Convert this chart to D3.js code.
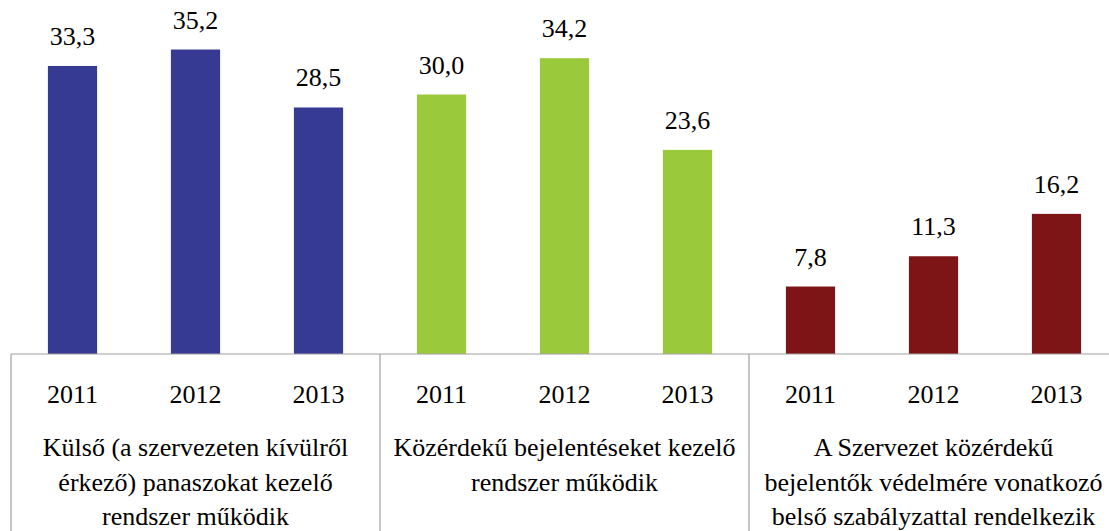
<!DOCTYPE html>
<html>
<head>
<meta charset="utf-8">
<script src="https://cdn.jsdelivr.net/npm/d3@7"></script>
<style>
  html, body { margin: 0; padding: 0; background: #fff; overflow: hidden; }
</style>
</head>
<body>
<svg id="chart" width="1109" height="531"></svg>
<script>
// Survey categories (each drawn as a group of three yearly bars)
const categories = [
  ["Külső (a szervezeten kívülről", "érkező) panaszokat kezelő", "rendszer működik"],
  ["Közérdekű bejelentéseket kezelő", "rendszer működik"],
  ["A Szervezet közérdekű", "bejelentők védelmére vonatkozó", "belső szabályzattal rendelkezik"]
];
const years = ["2011", "2012", "2013"];
const valuesExternal = [33.3, 35.2, 28.5];
const valuesPublicInterest = [30.0, 34.2, 23.6];
const valuesProtection = [7.8, 11.3, 16.2];
const seriesValues = [valuesExternal, valuesPublicInterest, valuesProtection];
const groupColors = ["#363a92", "#9aca3c", "#7d1517"];

// pick the first installed serif face (canvas width probe against monospace)
function pickFont(candidates) {
  const ctx = document.createElement("canvas").getContext("2d");
  const probe = "mmmmmmmmmmlliWW0123456789";
  ctx.font = "40px monospace";
  const base = ctx.measureText(probe).width;
  for (const f of candidates) {
    ctx.font = `40px "${f}", monospace`;
    if (Math.abs(ctx.measureText(probe).width - base) > 0.5) return `"${f}"`;
  }
  return "serif";
}
const FONT = pickFont(["Liberation Serif", "Tinos", "Times New Roman", "Nimbus Roman", "FreeSerif", "DejaVu Serif", "Noto Serif"]) + ", serif";

const svg = d3.select("#chart");
const W = 1109, H = 531;
const left = 11, right = 1118, baseY = 354, topY = 8;

// flatten into bar records
const bars = [];
seriesValues.forEach((vals, g) => {
  vals.forEach((v, i) => bars.push({ key: g + "-" + years[i], g, year: years[i], value: v }));
});

const x = d3.scaleBand()
  .domain(bars.map(d => d.key))
  .range([left, right])
  .paddingInner(0.6)
  .paddingOuter(0.3);

const xGroup = d3.scaleBand()
  .domain(d3.range(categories.length))
  .range([left, right])
  .padding(0);

const y = d3.scaleLinear().domain([0, 40]).range([baseY, topY]);

// bars
svg.append("g").selectAll("rect")
  .data(bars)
  .join("rect")
  .attr("x", d => x(d.key))
  .attr("width", x.bandwidth())
  .attr("y", d => y(d.value))
  .attr("height", d => y(0) - y(d.value))
  .attr("fill", d => groupColors[d.g]);

// value labels
const fmt = v => v.toFixed(1).replace(".", ",");
svg.append("g").selectAll("text")
  .data(bars)
  .join("text")
  .attr("x", d => x(d.key) + x.bandwidth() / 2)
  .attr("y", d => y(d.value) - 21)
  .attr("text-anchor", "middle")
  .style("font-family", FONT)
  .attr("font-size", 26)
  .attr("fill", "#000")
  .text(d => fmt(d.value));

// category axis frame
const frame = svg.append("g")
  .attr("stroke", "#a0a0a0")
  .attr("stroke-width", 1.2)
  .attr("fill", "none");
frame.append("line")
  .attr("x1", left).attr("x2", W)
  .attr("y1", baseY).attr("y2", baseY);
d3.range(categories.length + 1).forEach(i => {
  const xx = i < categories.length ? xGroup(i) : right;
  frame.append("line")
    .attr("x1", xx).attr("x2", xx)
    .attr("y1", baseY).attr("y2", H);
});

// year labels
svg.append("g").selectAll("text")
  .data(bars)
  .join("text")
  .attr("x", d => x(d.key) + x.bandwidth() / 2)
  .attr("y", 403)
  .attr("text-anchor", "middle")
  .style("font-family", FONT)
  .attr("font-size", 26)
  .text(d => d.year);

// category labels
const catG = svg.append("g");
categories.forEach((lines, g) => {
  const cx = xGroup(g) + xGroup.bandwidth() / 2;
  const t = catG.append("text")
    .attr("text-anchor", "middle")
    .style("font-family", FONT)
    .attr("font-size", 26);
  lines.forEach((ln, j) => {
    t.append("tspan")
      .attr("x", cx)
      .attr("y", 456 + j * 34.5)
      .text(ln);
  });
});
</script>
</body>
</html>
